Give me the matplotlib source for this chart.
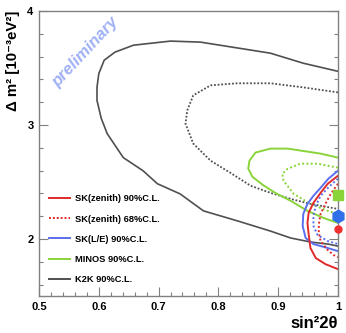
"""Atmospheric neutrino oscillation allowed regions (sin^2 2theta vs dm^2)."""
import numpy as np
import matplotlib

matplotlib.use("Agg")
import matplotlib.pyplot as plt
from matplotlib.lines import Line2D

plt.rcParams["font.family"] = ["Liberation Sans", "DejaVu Sans"]

# ----------------------------------------------------------------------
# contour data (sin^2 2theta, dm^2 [1e-3 eV^2])
# ----------------------------------------------------------------------
k2k90_x = [1.0, 0.942, 0.887, 0.770, 0.720, 0.658, 0.627, 0.609, 0.600, 0.597,
           0.597, 0.604, 0.614, 0.641, 0.674, 0.698, 0.736, 0.775, 0.832, 0.887,
           0.921, 0.954, 0.983, 1.0]
k2k90_y = [3.471, 3.542, 3.630, 3.727, 3.736, 3.700, 3.639, 3.568, 3.450, 3.330,
           3.216, 3.060, 2.925, 2.714, 2.599, 2.485, 2.396, 2.247, 2.159, 2.070,
           2.009, 1.974, 1.956, 1.938]

k2k68_x = [1.0, 0.942, 0.887, 0.832, 0.787, 0.758, 0.748, 0.745, 0.758, 0.787,
           0.820, 0.854, 0.887, 0.921, 0.954, 1.0]
k2k68_y = [3.286, 3.330, 3.366, 3.366, 3.348, 3.260, 3.128, 3.013, 2.837, 2.687,
           2.581, 2.467, 2.405, 2.352, 2.308, 2.264]

minos90_x = [1.0, 0.971, 0.916, 0.887, 0.862, 0.852, 0.850, 0.857, 0.874, 0.895,
             0.921, 0.949, 0.976, 1.0]
minos90_y = [2.714, 2.749, 2.793, 2.793, 2.758, 2.687, 2.617, 2.546, 2.476, 2.405,
             2.335, 2.247, 2.185, 2.141]

minos68_x = [1.0, 0.966, 0.937, 0.916, 0.907, 0.909, 0.926, 0.954, 0.983, 1.0]
minos68_y = [2.626, 2.661, 2.661, 2.617, 2.573, 2.511, 2.396, 2.308, 2.247, 2.220]

skz90_x = [1.0, 0.983, 0.971, 0.959, 0.951, 0.949, 0.951, 0.954, 0.963, 0.979, 1.0]
skz90_y = [2.555, 2.485, 2.405, 2.317, 2.229, 2.141, 2.044, 1.921, 1.833, 1.780, 1.736]

skz68_x = [1.0, 0.988, 0.979, 0.971, 0.968, 0.968, 0.971, 0.983, 0.993, 1.0]
skz68_y = [2.485, 2.396, 2.308, 2.220, 2.132, 2.053, 1.982, 1.903, 1.859, 1.841]

skle90_x = [1.0, 0.984, 0.971, 0.959, 0.949, 0.942, 0.941, 0.946, 0.959, 0.983, 1.0]
skle90_y = [2.599, 2.529, 2.449, 2.379, 2.308, 2.220, 2.115, 2.009, 1.956, 1.921, 1.894]

skle68_x = [1.0, 0.985, 0.971, 0.963, 0.959, 0.959, 0.966, 0.983, 1.0]
skle68_y = [2.529, 2.458, 2.379, 2.291, 2.203, 2.115, 2.035, 1.982, 1.956]

# best-fit points
best_minos = (1.0, 2.388)
best_skle = (1.0, 2.203)
best_skz = (1.0, 2.088)

legend_labels = ["SK(zenith) 90%C.L.", "SK(zenith) 68%C.L.", "SK(L/E) 90%C.L.",
                 "MINOS 90%C.L.", "K2K 90%C.L."]

RED = "#e02a2a"
BLUE = "#5a6ff0"
GREEN = "#8ad43a"
GREY = "#505050"

# ----------------------------------------------------------------------
# plotting
# ----------------------------------------------------------------------
fig = plt.figure(figsize=(3.46, 3.33), dpi=100)
ax = fig.add_axes([0.1127, 0.111, 0.864, 0.856])

ax.plot(k2k90_x, k2k90_y, color=GREY, lw=1.2)
ax.plot(k2k68_x, k2k68_y, color=GREY, lw=1.3, ls=(0, (1, 1)))
ax.plot(minos90_x, minos90_y, color=GREEN, lw=1.4)
ax.plot(minos68_x, minos68_y, color=GREEN, lw=1.4, ls=(0, (1, 1.2)))
ax.plot(skle90_x, skle90_y, color=BLUE, lw=1.4)
ax.plot(skle68_x, skle68_y, color=BLUE, lw=1.4, ls=(0, (1, 1.2)))
ax.plot(skz90_x, skz90_y, color=RED, lw=1.4)
ax.plot(skz68_x, skz68_y, color=RED, lw=1.4, ls=(0, (1, 1.2)))

ax.plot(*best_minos, marker="s", ms=6.5, color=GREEN, clip_on=False, zorder=5)
ax.plot(*best_skle, marker="h", ms=9, color="#2f6fe8", clip_on=False, zorder=5)
ax.plot(*best_skz, marker="o", ms=5, color="#f03030", clip_on=False, zorder=5)

ax.text(0.155, 0.855, "preliminary", transform=ax.transAxes, rotation=47,
        ha="center", va="center", fontsize=12, fontweight="bold",
        style="italic", color="#9fb0f5")

ax.set_xlim(0.5, 1.0)
ax.set_ylim(1.5, 4.0)
ax.set_xticks([0.5, 0.6, 0.7, 0.8, 0.9, 1.0])
ax.set_xticklabels(["0.5", "0.6", "0.7", "0.8", "0.9", "1"])
ax.set_xticks(np.arange(0.5, 1.0001, 0.02), minor=True)
ax.set_yticks([2, 3, 4])
ax.set_yticks(np.arange(1.6, 4.0, 0.2), minor=True)

for s in ax.spines.values():
    s.set_color("#808080")
    s.set_linewidth(1.0)
ax.tick_params(which="both", direction="in", right=True, top=False,
               color="#808080", width=0.8)
ax.tick_params(which="major", length=6.5, labelsize=8, pad=4)
ax.tick_params(which="minor", length=3.2)
for lab in ax.get_xticklabels() + ax.get_yticklabels():
    lab.set_fontweight("bold")

ax.set_xlabel("sin²2θ", fontsize=12, fontweight="bold", loc="right",
              labelpad=3)
ax.set_ylabel("Δ m² [10⁻³eV²]", fontsize=10.8, fontweight="bold",
              loc="top", labelpad=5)

handles = [
    Line2D([], [], color=RED, lw=1.4),
    Line2D([], [], color=RED, lw=1.4, ls=(0, (1, 1))),
    Line2D([], [], color=BLUE, lw=1.4),
    Line2D([], [], color=GREEN, lw=1.4),
    Line2D([], [], color=GREY, lw=1.4),
]
ax.legend(handles, legend_labels, loc="lower left",
          bbox_to_anchor=(0.032, 0.042), frameon=False, borderpad=0,
          borderaxespad=0, prop={"size": 6.7, "weight": "bold"},
          handlelength=2.35, handletextpad=0.5, labelspacing=1.2)

fig.savefig("out.png", dpi=100)
plt.close(fig)
